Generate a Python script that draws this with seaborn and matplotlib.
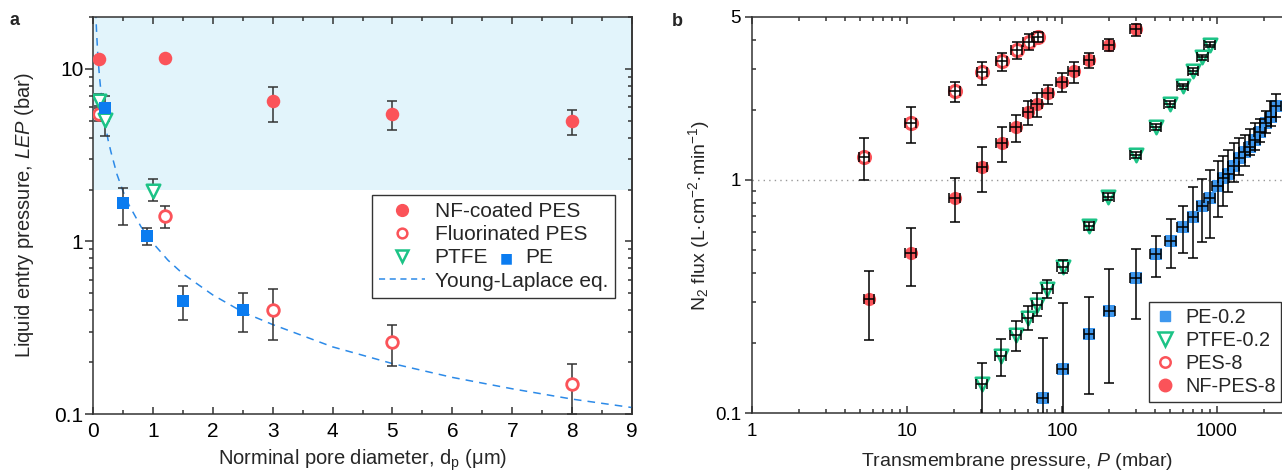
import numpy as np
import pandas as pd
import matplotlib
matplotlib.use("Agg")
import matplotlib.pyplot as plt
import seaborn as sns
from matplotlib.lines import Line2D
from matplotlib.ticker import LogLocator, NullFormatter, FixedLocator, FixedFormatter, MultipleLocator

# ---------------- panel a : LEP vs pore diameter ----------------
nf_d = [0.1, 1.2, 3.0, 5.0, 8.0]
nf_lep = [11.4, 11.5, 6.5, 5.5, 5.0]
nf_lo = [11.4, 11.5, 4.95, 4.4, 4.15]
nf_hi = [11.4, 11.5, 7.9, 6.5, 5.8]

fl_d = [0.1, 1.2, 3.0, 5.0, 8.0]
fl_lep = [5.5, 1.4, 0.40, 0.26, 0.15]
fl_lo = [5.0, 1.2, 0.27, 0.19, 0.10]
fl_hi = [6.1, 1.6, 0.53, 0.33, 0.195]

ptfe_d = [0.1, 0.2, 1.0]
ptfe_lep = [6.5, 5.05, 1.97]
ptfe_lo = [5.9, 4.06, 1.71]
ptfe_hi = [7.2, 5.9, 2.3]

pe_d = [0.2, 0.5, 0.9, 1.5, 2.5]
pe_lep = [5.95, 1.66, 1.07, 0.45, 0.40]
pe_lo = [5.0, 1.25, 0.96, 0.35, 0.30]
pe_hi = [7.0, 2.05, 1.19, 0.55, 0.50]

# Young-Laplace curve
yl_d = [0.045, 0.05, 0.06, 0.07, 0.08, 0.1, 0.12, 0.15, 0.2, 0.25, 0.3, 0.4, 0.5, 0.6,
        0.8, 1.0, 1.25, 1.5, 2.0, 2.5, 3.0, 4.0, 5.0, 6.0, 7.0, 8.0, 9.0]
yl_lep = [21.8, 19.6, 16.3, 14.0, 12.2, 9.8, 8.2, 6.5, 4.9, 3.9, 3.3, 2.45, 1.96, 1.63,
          1.22, 0.98, 0.78, 0.65, 0.49, 0.39, 0.33, 0.245, 0.196, 0.163, 0.14, 0.122, 0.109]

# ---------------- panel b : N2 flux vs pressure ----------------
pes_p = [5.3, 10.6, 20.4, 30.6, 41, 51, 61, 70]
pes_f = [1.25, 1.75, 2.41, 2.89, 3.24, 3.61, 3.92, 4.12]
pes_lo = [1.0, 1.44, 2.15, 2.56, 2.94, 3.3, 3.61, 3.92]
pes_hi = [1.51, 2.05, 2.64, 3.19, 3.52, 3.9, 4.22, 4.33]

nfp_p = [5.7, 10.6, 20.4, 30.6, 41, 50.4, 60.6, 68.5, 80.8, 99.6, 119.6, 150, 201, 299]
nfp_f = [0.308, 0.488, 0.84, 1.14, 1.44, 1.68, 1.96, 2.11, 2.36, 2.64, 2.92, 3.27, 3.8, 4.43]
nfp_lo = [0.206, 0.35, 0.66, 0.89, 1.19, 1.46, 1.72, 1.87, 2.11, 2.39, 2.61, 3.01, 3.59, 4.14]
nfp_hi = [0.408, 0.624, 1.02, 1.39, 1.68, 1.9, 2.19, 2.36, 2.56, 2.87, 3.2, 3.52, 4.02, 4.67]

ptb_p = [30.3, 40.2, 50.5, 60.1, 69.3, 80.4, 101, 150, 199, 299, 402, 497, 601, 703, 804, 901]
ptb_f = [0.133, 0.176, 0.216, 0.255, 0.291, 0.34, 0.425, 0.635, 0.848, 1.28, 1.68, 2.12,
         2.52, 2.94, 3.36, 3.8]
ptb_lo = [0.09, 0.144, 0.185, 0.227, 0.26, 0.31, 0.398, 0.61, 0.82, 1.24, 1.63, 2.06,
          2.45, 2.86, 3.27, 3.70]
ptb_hi = [0.164, 0.208, 0.248, 0.288, 0.327, 0.372, 0.454, 0.66, 0.88, 1.32, 1.73, 2.18,
          2.59, 3.02, 3.45, 3.90]

peb_p = [75, 101, 150, 202, 300, 404, 505, 601, 703, 804, 901, 1010, 1100, 1183, 1288,
         1393, 1517, 1633, 1759, 1893, 2071, 2220, 2402]
peb_f = [0.116, 0.154, 0.218, 0.275, 0.381, 0.481, 0.547, 0.63, 0.696, 0.776, 0.834, 0.943,
         1.017, 1.06, 1.15, 1.24, 1.32, 1.39, 1.48, 1.61, 1.75, 1.86, 2.08]
peb_lo = [0.05, 0.05, 0.121, 0.134, 0.252, 0.382, 0.418, 0.488, 0.461, 0.544, 0.565, 0.696,
          0.77, 0.89, 0.98, 1.05, 1.15, 1.28, 1.35, 1.46, 1.59, 1.7, 1.87]
peb_hi = [0.209, 0.297, 0.313, 0.415, 0.505, 0.575, 0.678, 0.773, 0.93, 1.01, 1.1, 1.2,
          1.27, 1.35, 1.44, 1.51, 1.56, 1.65, 1.75, 1.82, 1.98, 2.17, 2.34]

p_rel_err = 0.08   # relative pressure uncertainty (horizontal bars)

RED = '#fb5359'
BLUE_A = '#0b7cf0'
BLUE_B = '#3d97ee'
GREEN = '#1cc386'
SHADE = '#e2f4fb'
DASH = '#2c8ae8'

sns.set_theme(style='ticks')
plt.rcParams['font.family'] = ['Liberation Sans', 'DejaVu Sans']
plt.rcParams['mathtext.fontset'] = 'custom'
plt.rcParams['mathtext.rm'] = 'Liberation Sans'
plt.rcParams['mathtext.it'] = 'Liberation Sans:italic'
plt.rcParams['mathtext.bf'] = 'Liberation Sans:bold'
plt.rcParams['axes.linewidth'] = 1.1
plt.rcParams['axes.edgecolor'] = '#333333'
plt.rcParams['xtick.color'] = '#333333'
plt.rcParams['ytick.color'] = '#333333'
plt.rcParams['xtick.labelcolor'] = 'black'
plt.rcParams['ytick.labelcolor'] = 'black'


def draw(ax, x, y, lo, hi, marker, face, edge, size, ew, ecolor, err_on_top, xerr=None):
    df = pd.DataFrame({'x': x, 'y': y})
    sns.scatterplot(data=df, x='x', y='y', marker=marker, s=size, color=face,
                    edgecolor=edge, linewidth=ew, ax=ax, zorder=2 if err_on_top else 4,
                    clip_on=True)
    y = np.array(y)
    yerr = [y - np.array(lo), np.array(hi) - y]
    ax.errorbar(x, y, yerr=yerr, xerr=xerr, fmt='none', ecolor=ecolor, elinewidth=1.1,
                capsize=3.5, capthick=1.1, zorder=3)


fig = plt.figure(figsize=(12.82, 4.72), dpi=100)
ax_a = fig.add_axes([93 / 1282, 1 - 414 / 472, 539 / 1282, 397 / 472])
ax_b = fig.add_axes([752 / 1282, 1 - 413 / 472, 530 / 1282, 396 / 472])

# ---- panel a ----
ax_a.set_yscale('log')
ax_a.axhspan(2, 20, color=SHADE, zorder=0, lw=0)
ax_a.plot(yl_d, yl_lep, color=DASH, lw=1.1, dashes=(5, 4), zorder=1)
draw(ax_a, nf_d, nf_lep, nf_lo, nf_hi, 'o', RED, RED, 95, 0, '#333333', False)
draw(ax_a, fl_d, fl_lep, fl_lo, fl_hi, 'o', 'white', RED, 70, 2.0, '#333333', False)
draw(ax_a, ptfe_d, ptfe_lep, ptfe_lo, ptfe_hi, 'v', 'white', GREEN, 95, 1.8, '#333333', False)
draw(ax_a, pe_d, pe_lep, pe_lo, pe_hi, 's', BLUE_A, BLUE_A, 75, 0, '#333333', False)

ax_a.set_xlim(0, 9)
ax_a.set_ylim(0.1, 20)
ax_a.xaxis.set_major_locator(MultipleLocator(1))
ax_a.xaxis.set_minor_locator(MultipleLocator(0.5))
ax_a.yaxis.set_major_locator(FixedLocator([0.1, 1, 10]))
ax_a.yaxis.set_major_formatter(FixedFormatter(['0.1', '1', '10']))
ax_a.yaxis.set_minor_locator(LogLocator(base=10, subs=np.arange(2, 10)))
ax_a.yaxis.set_minor_formatter(NullFormatter())
ax_a.tick_params(axis='x', which='both', direction='in', top=True, labelsize=15, pad=6)
ax_a.tick_params(axis='x', which='major', length=5, width=1.1)
ax_a.tick_params(axis='x', which='minor', length=3, width=1.1)
ax_a.tick_params(axis='y', which='both', direction='out', labelsize=15, pad=1)
ax_a.tick_params(axis='y', which='major', length=6, width=1.1)
ax_a.tick_params(axis='y', which='minor', length=3, width=1.1)
sec = ax_a.secondary_yaxis('right')
sec.yaxis.set_major_locator(FixedLocator([0.1, 1, 10]))
sec.yaxis.set_minor_locator(LogLocator(base=10, subs=np.arange(2, 10)))
sec.tick_params(which='both', direction='in', labelright=False, width=1.1)
sec.tick_params(which='major', length=5)
sec.tick_params(which='minor', length=3)
sec.yaxis.set_minor_formatter(NullFormatter())

ax_a.set_xlabel('Norminal pore diameter, d$_{\\rm p}$ (\u03bcm)', fontsize=14.5)
ax_a.set_ylabel('Liquid entry pressure, $\\mathit{LEP}$ (bar)', fontsize=14.5)
ax_a.xaxis.set_label_coords(0.5, -0.085)
ax_a.yaxis.set_label_coords(-0.105, 0.5)

h_nf = Line2D([], [], ls='none', marker='o', ms=8.5, mfc=RED, mec=RED)
h_fl = Line2D([], [], ls='none', marker='o', ms=7, mfc='white', mec=RED, mew=1.8)
h_pt = Line2D([], [], ls='none', marker='v', ms=9, mfc='white', mec=GREEN, mew=1.8)
h_yl = Line2D([], [], color=DASH, lw=1.1, dashes=(4, 3))
leg_a = ax_a.legend([h_nf, h_fl, h_pt, h_yl],
                    ['NF-coated PES', 'Fluorinated PES', 'PTFE', 'Young-Laplace eq.'],
                    loc='upper left', bbox_to_anchor=(0.518, 0.552), borderaxespad=0,
                    fontsize=15, frameon=True, fancybox=False, framealpha=1,
                    edgecolor='#333333', handlelength=2.2, handletextpad=0.45,
                    labelspacing=0.2, borderpad=0.35)
leg_a.get_frame().set_linewidth(1.0)
ptfe_txt = leg_a.get_texts()[2]
sq = ax_a.annotate('\u25a0', xy=(1, 0.5), xycoords=ptfe_txt, xytext=(8, 0),
                   textcoords='offset points', va='center', ha='left', color=BLUE_A,
                   fontsize=10, family='DejaVu Sans', zorder=10, annotation_clip=False)
ax_a.annotate('PE', xy=(1, 0.5), xycoords=sq, xytext=(9, 0), textcoords='offset points',
              va='center', ha='left', fontsize=15, zorder=10, annotation_clip=False)

# ---- panel b ----
ax_b.set_xscale('log')
ax_b.set_yscale('log')
ax_b.axhline(1, color='#999999', lw=1.0, ls=(0, (1, 3)), zorder=1)
draw(ax_b, peb_p, peb_f, peb_lo, peb_hi, 's', BLUE_B, BLUE_B, 70, 0, 'black', True,
     xerr=np.array(peb_p) * p_rel_err)
draw(ax_b, ptb_p, ptb_f, ptb_lo, ptb_hi, 'v', 'white', GREEN, 95, 1.8, 'black', True,
     xerr=np.array(ptb_p) * p_rel_err)
draw(ax_b, pes_p, pes_f, pes_lo, pes_hi, 'o', 'white', RED, 75, 2.2, 'black', True,
     xerr=np.array(pes_p) * p_rel_err)
draw(ax_b, nfp_p, nfp_f, nfp_lo, nfp_hi, 'o', RED, RED, 90, 0, 'black', True,
     xerr=np.array(nfp_p) * p_rel_err)

ax_b.set_xlim(1, 2626)
ax_b.set_ylim(0.1, 5)
ax_b.xaxis.set_major_locator(FixedLocator([1, 10, 100, 1000]))
ax_b.xaxis.set_major_formatter(FixedFormatter(['1', '10', '100', '1000']))
ax_b.xaxis.set_minor_locator(LogLocator(base=10, subs=np.arange(2, 10)))
ax_b.xaxis.set_minor_formatter(NullFormatter())
ax_b.yaxis.set_major_locator(FixedLocator([0.1, 1, 5]))
ax_b.yaxis.set_major_formatter(FixedFormatter(['0.1', '1', '5']))
ax_b.yaxis.set_minor_locator(LogLocator(base=10, subs=np.arange(2, 10)))
ax_b.yaxis.set_minor_formatter(NullFormatter())
ax_b.tick_params(axis='x', which='both', direction='in', top=True, labelsize=13.5, pad=7,
                 width=1.1)
ax_b.tick_params(axis='x', which='major', length=5)
ax_b.tick_params(axis='x', which='minor', length=3)
ax_b.tick_params(axis='y', which='major', direction='out', length=5, width=1.1,
                 labelsize=13.5, pad=3)
ax_b.tick_params(axis='y', which='minor', direction='in', length=3, width=1.1)
ax_b.spines['right'].set_visible(False)

ax_b.set_xlabel('Transmembrane pressure, $\\mathit{P}$ (mbar)', fontsize=14)
ax_b.set_ylabel('N$_2$ flux (L\u00b7cm$^{-2}$\u00b7min$^{-1}$)', fontsize=14)
ax_b.xaxis.set_label_coords(0.5, -0.095)
ax_b.yaxis.set_label_coords(-0.076, 0.5)

hb_pe = Line2D([], [], ls='none', marker='s', ms=7, mfc=BLUE_B, mec=BLUE_B)
hb_pt = Line2D([], [], ls='none', marker='v', ms=9.5, mfc='white', mec=GREEN, mew=1.8)
hb_pes = Line2D([], [], ls='none', marker='o', ms=7.5, mfc='white', mec=RED, mew=1.8)
hb_nf = Line2D([], [], ls='none', marker='o', ms=9, mfc=RED, mec=RED)
leg_b = ax_b.legend([hb_pe, hb_pt, hb_pes, hb_nf], ['PE-0.2', 'PTFE-0.2', 'PES-8', 'NF-PES-8'],
                    loc='lower right', bbox_to_anchor=(0.999, 0.028), borderaxespad=0,
                    fontsize=14.3, frameon=True, fancybox=False, framealpha=1,
                    edgecolor='#333333', handlelength=1.0, handletextpad=0.5,
                    labelspacing=0.2, borderpad=0.3)
leg_b.get_frame().set_linewidth(1.0)

fig.text(10 / 1282, 1 - 25 / 472, 'a', fontsize=13, fontweight='bold', va='baseline')
fig.text(672 / 1282, 1 - 26 / 472, 'b', fontsize=13, fontweight='bold', va='baseline')

fig.savefig('out.png', dpi=100)
